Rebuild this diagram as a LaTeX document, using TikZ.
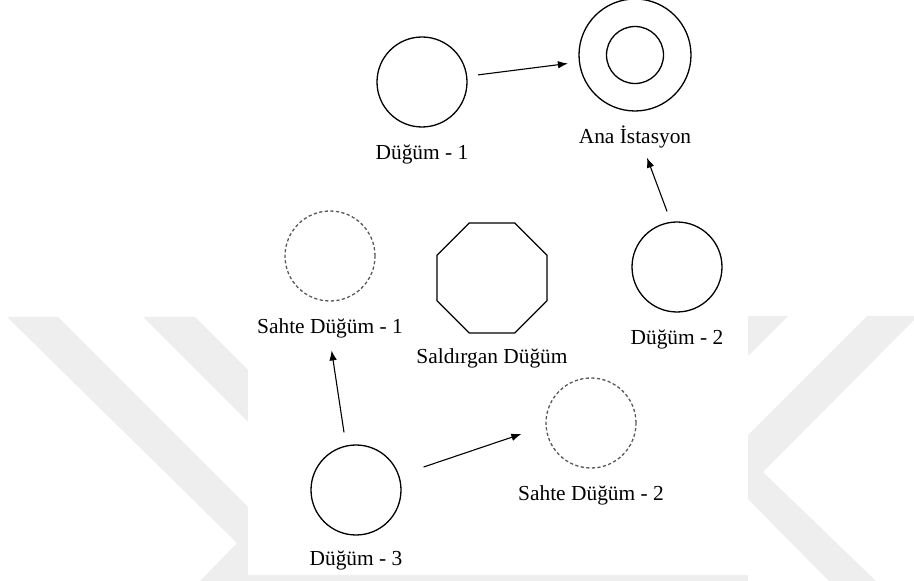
\documentclass[tikz,border=0pt]{standalone}
\usepackage{fontspec}
\setmainfont{Liberation Serif}
\usetikzlibrary{arrows.meta,positioning,shapes.geometric}
\definecolor{wmgray}{HTML}{EEEEEE}

\begin{document}
\begin{tikzpicture}[
    x=0.5pt, y=-0.5pt,
    node distance=8pt,
    font=\fontsize{10.7}{12}\selectfont,
    nd/.style={draw, circle, line width=0.65pt, minimum size=45pt, inner sep=0pt},
    fake/.style={nd, draw=black!65, dash pattern=on 1.6pt off 1.2pt},
    lbl/.style={inner sep=0pt, text height=7.5pt, text depth=2.5pt},
    arr/.style={-{Latex[length=5pt,width=3.8pt]}, line width=0.55pt}
]
\useasboundingbox (0,0) rectangle (914,581);
% watermark behind the page
\fill[wmgray] (7,317) -- (58,317) -- (323,582) -- (199,582) -- (237,543) -- cycle;
\fill[wmgray] (143,317) -- (195,317) -- (460,582) -- (408,582) -- cycle;
\fill[wmgray] (740,316) -- (788,316) -- (740,364) -- cycle;
\fill[wmgray] (867,316) -- (914,316) -- (914,320) -- (763,472) -- (877,582)
    -- (830,582) -- (716,467) -- cycle;
\fill[white] (248,0) rectangle (748,575);
\fill[wmgray] (248,575) rectangle (748,581);

\node[nd] (dugum1) at (422,82) {};
\node[lbl, below=of dugum1] (dugum1-t) {Düğüm - 1};
\node[nd, minimum size=56pt] (ana) at (635,55) {};
\node[nd, minimum size=28.5pt] (ana-ic) at (635,55) {};
\node[lbl, below=of ana] (ana-t) {Ana İstasyon};
\node[fake] (sahte1) at (330,256) {};
\node[lbl, below=of sahte1] (sahte1-t) {Sahte Düğüm - 1};
\node[draw, regular polygon, regular polygon sides=8, minimum size=59.5pt,
    inner sep=0pt, line width=0.65pt] (saldirgan) at (492,278) {};
\node[lbl, below=7pt of saldirgan] (saldirgan-t) {Saldırgan Düğüm};
\node[nd] (dugum2) at (677,267) {};
\node[lbl, below=of dugum2] (dugum2-t) {Düğüm - 2};
\node[nd] (dugum3) at (356,490) {};
\node[lbl, below=7pt of dugum3] (dugum3-t) {Düğüm - 3};
\node[fake] (sahte2) at (591,423) {};
\node[lbl, below=of sahte2] (sahte2-t) {Sahte Düğüm - 2};

\draw[arr, shorten <=5.5pt, shorten >=5.5pt] (dugum1) -- (ana);
\draw[arr] ([xshift=-5pt,yshift=5pt]dugum2.north) -- ([xshift=6pt,yshift=-4.6pt]ana-t.south);
\draw[arr] ([xshift=-6pt,yshift=6pt]dugum3.north) -- ([xshift=0.8pt,yshift=-6pt]sahte1-t.south);
\draw[arr] ([xshift=11pt,yshift=11.5pt]dugum3.east) -- ([xshift=-12pt,yshift=-5.5pt]sahte2.west);
\end{tikzpicture}
\end{document}
